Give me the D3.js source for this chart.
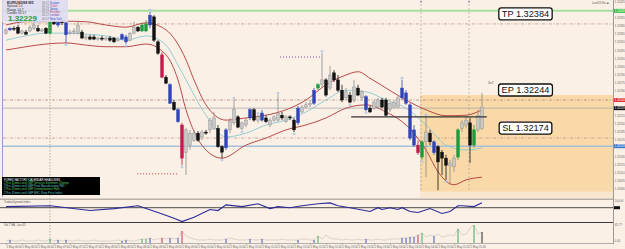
<!DOCTYPE html>
<html>
<head>
<meta charset="utf-8">
<script src="https://cdn.jsdelivr.net/npm/d3@7"></script>
<style>
  html, body { margin: 0; padding: 0; background: #faf0e6; }
  svg { display: block; font-family: "Liberation Sans", Arial, sans-serif; }
</style>
</head>
<body>
<div id="chart"></div>
<script>
// EURUSD M5 - candles, bands, trade levels, two sub panels

const opens = [
  1.32367, 1.32373, 1.32376, 1.32378, 1.32367, 1.32369, 1.32371, 1.32376, 1.32376, 1.32371,
  1.32376, 1.32367, 1.32388, 1.32382, 1.32388, 1.32386, 1.32367, 1.32369, 1.32367, 1.32369,
  1.32358, 1.32360, 1.32360, 1.32356, 1.32358, 1.32356, 1.32358, 1.32358, 1.32353, 1.32356,
  1.32360, 1.32354, 1.32367, 1.32378, 1.32371, 1.32371, 1.32382, 1.32397, 1.32351, 1.32327,
  1.32286, 1.32272, 1.32240, 1.32226, 1.32198, 1.32147, 1.32161, 1.32170, 1.32183, 1.32176,
  1.32185, 1.32189, 1.32192, 1.32192, 1.32158, 1.32156, 1.32189, 1.32202, 1.32213, 1.32192,
  1.32198, 1.32211, 1.32226, 1.32207, 1.32207, 1.32211, 1.32198, 1.32207, 1.32207, 1.32216,
  1.32204, 1.32213, 1.32207, 1.32202, 1.32222, 1.32231, 1.32235, 1.32238, 1.32266, 1.32272,
  1.32281, 1.32266, 1.32294, 1.32281, 1.32262, 1.32248, 1.32253, 1.32244, 1.32266, 1.32248,
  1.32250, 1.32229, 1.32229, 1.32231, 1.32244, 1.32244, 1.32226, 1.32231, 1.32231, 1.32248,
  1.32257, 1.32235, 1.32189, 1.32161, 1.32139, 1.32167, 1.32183, 1.32167, 1.32158, 1.32148,
  1.32137, 1.32124, 1.32121, 1.32139, 1.32192, 1.32198, 1.32202, 1.32161, 1.32189, 1.32192
];
const highs = [
  1.32376, 1.32378, 1.32380, 1.32382, 1.32373, 1.32373, 1.32382, 1.32386, 1.32382, 1.32376,
  1.32378, 1.32391, 1.32391, 1.32391, 1.32391, 1.32388, 1.32373, 1.32376, 1.32388, 1.32373,
  1.32364, 1.32364, 1.32364, 1.32360, 1.32362, 1.32360, 1.32362, 1.32360, 1.32360, 1.32367,
  1.32364, 1.32369, 1.32388, 1.32380, 1.32386, 1.32391, 1.32406, 1.32400, 1.32354, 1.32332,
  1.32290, 1.32275, 1.32244, 1.32229, 1.32202, 1.32192, 1.32189, 1.32189, 1.32187, 1.32189,
  1.32189, 1.32211, 1.32222, 1.32198, 1.32161, 1.32192, 1.32211, 1.32244, 1.32216, 1.32204,
  1.32211, 1.32229, 1.32229, 1.32216, 1.32226, 1.32216, 1.32211, 1.32216, 1.32253, 1.32222,
  1.32216, 1.32216, 1.32211, 1.32233, 1.32235, 1.32240, 1.32244, 1.32266, 1.32275, 1.32330,
  1.32284, 1.32307, 1.32299, 1.32290, 1.32272, 1.32266, 1.32259, 1.32281, 1.32272, 1.32262,
  1.32253, 1.32233, 1.32244, 1.32248, 1.32248, 1.32248, 1.32240, 1.32244, 1.32251, 1.32281,
  1.32262, 1.32238, 1.32198, 1.32170, 1.32170, 1.32213, 1.32189, 1.32170, 1.32161, 1.32152,
  1.32143, 1.32134, 1.32143, 1.32192, 1.32207, 1.32216, 1.32211, 1.32198, 1.32226, 1.32257
];
const lows = [
  1.32364, 1.32371, 1.32371, 1.32365, 1.32365, 1.32364, 1.32369, 1.32373, 1.32369, 1.32369,
  1.32365, 1.32364, 1.32382, 1.32378, 1.32382, 1.32349, 1.32364, 1.32365, 1.32365, 1.32356,
  1.32354, 1.32354, 1.32354, 1.32353, 1.32353, 1.32353, 1.32351, 1.32349, 1.32351, 1.32354,
  1.32347, 1.32353, 1.32365, 1.32369, 1.32369, 1.32369, 1.32376, 1.32351, 1.32327, 1.32284,
  1.32273, 1.32237, 1.32224, 1.32202, 1.32124, 1.32106, 1.32152, 1.32167, 1.32167, 1.32170,
  1.32180, 1.32183, 1.32189, 1.32156, 1.32137, 1.32152, 1.32183, 1.32198, 1.32192, 1.32189,
  1.32194, 1.32207, 1.32204, 1.32202, 1.32204, 1.32202, 1.32194, 1.32204, 1.32204, 1.32207,
  1.32202, 1.32207, 1.32185, 1.32198, 1.32220, 1.32229, 1.32231, 1.32235, 1.32262, 1.32268,
  1.32250, 1.32262, 1.32277, 1.32259, 1.32240, 1.32244, 1.32238, 1.32240, 1.32251, 1.32244,
  1.32224, 1.32220, 1.32226, 1.32229, 1.32229, 1.32214, 1.32222, 1.32229, 1.32229, 1.32244,
  1.32235, 1.32170, 1.32158, 1.32143, 1.32134, 1.32102, 1.32161, 1.32143, 1.32078, 1.32106,
  1.32097, 1.32088, 1.32112, 1.32134, 1.32185, 1.32192, 1.32128, 1.32156, 1.32185, 1.32189
];
const closes = [
  1.32373, 1.32376, 1.32375, 1.32367, 1.32371, 1.32365, 1.32378, 1.32382, 1.32371, 1.32373,
  1.32367, 1.32388, 1.32384, 1.32388, 1.32386, 1.32364, 1.32369, 1.32371, 1.32382, 1.32358,
  1.32360, 1.32356, 1.32356, 1.32358, 1.32356, 1.32358, 1.32354, 1.32351, 1.32356, 1.32364,
  1.32351, 1.32367, 1.32378, 1.32371, 1.32382, 1.32384, 1.32400, 1.32354, 1.32330, 1.32286,
  1.32275, 1.32238, 1.32226, 1.32204, 1.32137, 1.32189, 1.32183, 1.32183, 1.32170, 1.32185,
  1.32183, 1.32207, 1.32211, 1.32158, 1.32148, 1.32189, 1.32204, 1.32226, 1.32194, 1.32202,
  1.32207, 1.32226, 1.32207, 1.32213, 1.32220, 1.32204, 1.32207, 1.32213, 1.32220, 1.32211,
  1.32213, 1.32211, 1.32189, 1.32229, 1.32231, 1.32235, 1.32238, 1.32262, 1.32272, 1.32281,
  1.32253, 1.32290, 1.32281, 1.32262, 1.32244, 1.32259, 1.32240, 1.32268, 1.32253, 1.32259,
  1.32226, 1.32222, 1.32240, 1.32244, 1.32231, 1.32216, 1.32238, 1.32240, 1.32248, 1.32266,
  1.32238, 1.32174, 1.32161, 1.32147, 1.32167, 1.32185, 1.32167, 1.32147, 1.32130, 1.32137,
  1.32124, 1.32128, 1.32137, 1.32189, 1.32202, 1.32207, 1.32161, 1.32189, 1.32216, 1.32231
];
// signal colour per candle: b = blue, g = green, r = red, . = plain
const candleSignal = (
  '.b........' + '.g.b.b....' + '.........b' + 'b...ggb..r' + '.b.br.....' + '.....b....' +
  '.b..b.....' + '...b...bg.' + '..........' + 'b........b' + 'bbbrg..b..' + '...g...g..'
).split('');

// fractal marks: [candle index, 'u' above high / 'd' below low]
const fractals = [[15,'d'],[30,'d'],[36,'u'],[44,'d'],[54,'d'],[57,'u'],[59,'d'],[63,'u'],[68,'u'],[72,'d'],[79,'u'],[86,'d'],[90,'d'],[99,'u'],[104,'d'],[105,'u'],[110,'d']];

// bands read at sample candles: [candle index, price]
const upperBand = [[0,1.32382],[5,1.32388],[10,1.32388],[15,1.32389],[20,1.32388],[25,1.32382],[30,1.32378],[35,1.32386],[40,1.32373],[45,1.32318],[47,1.32281],[50,1.32235],[55,1.32207],[60,1.32211],[65,1.32216],[70,1.32226],[75,1.32244],[80,1.32272],[85,1.32290],[88,1.32296],[91,1.32284],[95,1.32266],[100,1.32244],[105,1.32226],[110,1.32215],[115,1.32216],[119,1.32226]];
const middleBand = [[0,1.32354],[5,1.32362],[10,1.32367],[15,1.32367],[20,1.32365],[25,1.32362],[30,1.32354],[35,1.32362],[40,1.32345],[43,1.32308],[45,1.32281],[50,1.32216],[55,1.32176],[60,1.32183],[65,1.32198],[70,1.32207],[75,1.32222],[80,1.32244],[85,1.32262],[90,1.32259],[95,1.32244],[100,1.32229],[105,1.32198],[110,1.32161],[115,1.32152],[119,1.32156]];
const lowerBand = [[0,1.32336],[5,1.32342],[10,1.32347],[15,1.32349],[20,1.32345],[25,1.32342],[30,1.32342],[35,1.32347],[40,1.32327],[43,1.32281],[45,1.32226],[50,1.32152],[54,1.32137],[60,1.32161],[65,1.32174],[70,1.32189],[75,1.32198],[80,1.32211],[85,1.32229],[90,1.32235],[95,1.32222],[100,1.32198],[105,1.32152],[108,1.32112],[112,1.32088],[115,1.32097],[119,1.32102]];

// trade levels
const takeProfit = 1.32384, entryPrice = 1.32244, stopLoss = 1.32174;
const bidPrice = 1.32229, dayHigh = 1.32408, supportLevel = 1.32159;
const rangeTop = 1.32213, rangeStart = 86.3, rangeEnd = 120.2;
const zoneTop = 1.32253, zoneBottom = 1.32075, zoneStart = 103.5;
const sessionMarks = [103.75, 115.75];
const daySeparator = 11;
const dottedLevels = [[68.5, 78.5, 1.32323, '#8040a0'], [32.8, 43, 1.32108, '#c03030']];

const priceTicks = [1.32425,1.32410,1.32395,1.32380,1.32365,1.32350,1.32335,1.32320,1.32305,1.32290,1.32275,1.32260,1.32245,1.32230,1.32215,1.32200,1.32185,1.32170,1.32155,1.32140,1.32125,1.32110,1.32095,1.32080];

// oscillator panel: [candle index, value]
const oscillator = [[0,70],[11,74],[21,52],[27,61],[33,74],[38,43],[42,17],[44,2],[47,22],[51,57],[53,52],[55,78],[59,70],[63,83],[66,61],[68,70],[71,65],[74,74],[78,83],[81,87],[83,74],[86,65],[91,48],[93,65],[94,57],[96,65],[98,57],[99,65],[101,48],[103,43],[106,61],[109,39],[111,48],[113,74],[114,74],[117,70],[119,87]];
const oscLevel = 65;

// volume panel, one value per candle
const volume = [
  2,3,2,2,3,2,2,2,3,2, 2,4,2,3,2,3,2,2,3,2, 2,2,3,2,2,2,2,2,3,2,
  3,2,2,3,4,4,5,3,4,5, 4,5,4,5,12,7,5,4,3,3, 3,4,3,3,3,4,5,4,3,3,
  3,4,3,3,4,3,3,3,3,4, 3,3,3,3,4,4,3,3,7,4, 8,5,4,4,3,4,3,3,4,3,
  4,3,3,4,3,3,4,4,4,5, 5,6,6,8,10,6,8,7,9,6, 7,8,7,14,8,9,15,18,9,11
];

const timeLabels = ['2 May 06:00','2 May 06:20','2 May 06:40','2 May 07:00','2 May 07:20','2 May 07:40','2 May 08:00','2 May 08:20','2 May 08:40','2 May 09:00','2 May 09:20','2 May 09:40','2 May 10:00','2 May 10:20','2 May 10:40','2 May 11:00','2 May 11:20','2 May 11:40','2 May 12:00','2 May 12:20','2 May 12:40','2 May 13:00','2 May 13:20','2 May 13:40','2 May 14:00','2 May 14:20','2 May 14:40','2 May 15:00','2 May 15:20','2 May 15:40'];

const infoLeft = ['EURUSD88  M5', 'Spread  1.0', 'Range  14.7', 'Candle  03:17'];
const infoRight = [['Scalper','#3050c0'],['Ticker','#d03070'],['Swing','#3050c0'],['Position','#d03070'],['London','#8040a0'],['New York','#3050c0']];
const newsLines = ['FOREX FACTORY CALENDAR HEADLINES', '27hrs 31mins until GBP Services Sentiment Change', '27hrs 31mins until GBP Final Manufacturing PMI', '27hrs 31mins until GBP Unemployment Rate', '27hrs 31mins until GBP BRC Shop Price Index'];

function drawChart() {
    const W = 625, H = 249;
    const plotLeft = 3, plotRight = 613, mainBottom = 197;
    const N = opens.length;

    const svg = d3.select('#chart').append('svg')
        .attr('width', W)
        .attr('height', H);

    svg.append('rect').attr('width', W).attr('height', H).attr('fill', '#faf0e6');

    const x = d3.scaleLinear().domain([0, N - 1]).range([6, 482]);
    const y = d3.scaleLinear().domain([1.320655, 1.32428]).range([mainBottom, 0]);

    svg.append('clipPath').attr('id', 'main-clip')
        .append('rect').attr('x', plotLeft).attr('y', 0)
        .attr('width', plotRight - plotLeft).attr('height', mainBottom + 1);

    const main = svg.append('g').attr('clip-path', 'url(#main-clip)');

    // session zone
    main.append('rect')
        .attr('x', x(zoneStart)).attr('y', y(zoneTop))
        .attr('width', plotRight - x(zoneStart)).attr('height', y(zoneBottom) - y(zoneTop))
        .attr('fill', '#f9d9a8');
    main.append('rect')
        .attr('x', x(zoneStart)).attr('y', y(zoneBottom))
        .attr('width', plotRight - x(zoneStart)).attr('height', mainBottom + 1 - y(zoneBottom))
        .attr('fill', '#f8e6cf');

    // left border
    svg.append('line').attr('x1', 2.5).attr('x2', 2.5).attr('y1', 0).attr('y2', mainBottom)
        .attr('stroke', '#8aa4c8').attr('stroke-width', 1);

    // vertical markers
    sessionMarks.forEach(i => {
        main.append('line')
            .attr('x1', x(i)).attr('x2', x(i)).attr('y1', 0).attr('y2', y(zoneBottom))
            .attr('stroke', '#a8a29a').attr('stroke-width', 0.7).attr('stroke-dasharray', '2,2');
        main.append('text')
            .attr('x', x(i)).attr('y', 3).attr('text-anchor', 'middle')
            .attr('font-size', '4px').attr('fill', '#8050a0').text('x');
    });
    svg.append('line')
        .attr('x1', x(daySeparator)).attr('x2', x(daySeparator)).attr('y1', 0).attr('y2', 243)
        .attr('stroke', '#a89c88').attr('stroke-width', 0.8).attr('stroke-dasharray', '1.5,1.5');

    // horizontal levels
    const hline = (price, color, width, dash) => main.append('line')
        .attr('x1', plotLeft).attr('x2', plotRight)
        .attr('y1', y(price)).attr('y2', y(price))
        .attr('stroke', color).attr('stroke-width', width)
        .attr('stroke-dasharray', dash || null);

    hline(dayHigh, '#a6e0a0', 2);
    hline(takeProfit, '#c49888', 0.8, '3,1.5,1,1.5');
    hline(entryPrice, '#b08878', 0.8, '3,1.5,1,1.5');
    hline(bidPrice, '#a8a8a8', 0.8);
    hline(stopLoss, '#c49888', 0.8, '3,1.5,1,1.5');
    hline(supportLevel, '#a4c0d8', 1.4);

    dottedLevels.forEach(d => {
        main.append('line')
            .attr('x1', x(d[0])).attr('x2', x(d[1]))
            .attr('y1', y(d[2])).attr('y2', y(d[2]))
            .attr('stroke', d[3]).attr('stroke-width', 1).attr('stroke-dasharray', '1,2');
    });

    // bands
    const bandLine = d3.line()
        .x(d => x(d[0]))
        .y(d => y(d[1]))
        .curve(d3.curveMonotoneX);

    main.append('path').datum(upperBand).attr('d', bandLine)
        .attr('fill', 'none').attr('stroke', '#b03a3a').attr('stroke-width', 0.9);
    main.append('path').datum(middleBand).attr('d', bandLine)
        .attr('fill', 'none').attr('stroke', '#8cc8d0').attr('stroke-width', 0.9);
    main.append('path').datum(lowerBand).attr('d', bandLine)
        .attr('fill', 'none').attr('stroke', '#b03a3a').attr('stroke-width', 0.9);

    // candles
    const signalColor = { b: '#2f44b8', g: '#1f9a3e', r: '#c21a4a' };
    const candleData = d3.range(N).map(i => ({
        i, o: opens[i], h: highs[i], l: lows[i], c: closes[i], s: candleSignal[i]
    }));
    const strokeOf = d => signalColor[d.s] || (d.c >= d.o ? '#8c8c8c' : '#111');
    const fillOf = d => signalColor[d.s] || (d.c >= d.o ? '#c8c8c8' : '#111');

    const candles = main.selectAll('.candle')
        .data(candleData)
        .enter()
        .append('g')
        .attr('class', 'candle');

    candles.append('line')
        .attr('x1', d => x(d.i)).attr('x2', d => x(d.i))
        .attr('y1', d => y(d.h)).attr('y2', d => y(d.l))
        .attr('stroke', strokeOf).attr('stroke-width', 0.8);

    candles.append('rect')
        .attr('x', d => x(d.i) - 1.5)
        .attr('y', d => y(Math.max(d.o, d.c)))
        .attr('width', 3)
        .attr('height', d => Math.max(1, Math.abs(y(d.o) - y(d.c))))
        .attr('fill', fillOf)
        .attr('stroke', strokeOf).attr('stroke-width', 0.4);

    // fractal marks
    main.selectAll('.fractal')
        .data(fractals)
        .enter()
        .append('circle')
        .attr('class', 'fractal')
        .attr('cx', d => x(d[0]))
        .attr('cy', d => d[1] === 'u' ? y(highs[d[0]]) - 1.8 : y(lows[d[0]]) + 1.8)
        .attr('r', 1)
        .attr('fill', '#e8f0fa')
        .attr('stroke', '#7f9fd0')
        .attr('stroke-width', 0.5);

    // range box top
    main.append('line')
        .attr('x1', x(rangeStart)).attr('x2', x(rangeEnd))
        .attr('y1', y(rangeTop)).attr('y2', y(rangeTop))
        .attr('stroke', '#333').attr('stroke-width', 1.2);

    // price axis
    svg.append('line')
        .attr('x1', plotRight + 0.5).attr('x2', plotRight + 0.5).attr('y1', 0).attr('y2', 244)
        .attr('stroke', '#9a9a9a').attr('stroke-width', 1);

    const tags = [[dayHigh, '#34c040', '#fff'], [entryPrice, '#e03030', '#fff'], [bidPrice, '#111', '#fff'], [supportLevel, '#3a78d0', '#fff']];
    const freeTicks = priceTicks.filter(p => tags.every(t => Math.abs(y(p) - y(t[0])) > 4.5));

    svg.append('g').selectAll('text')
        .data(freeTicks)
        .enter()
        .append('text')
        .attr('x', plotRight + 1.8)
        .attr('y', d => y(d) + 1)
        .attr('font-size', '2.8px')
        .attr('fill', '#6a6a6a')
        .text(d => d.toFixed(5));

    tags.forEach(t => {
        svg.append('rect')
            .attr('x', plotRight + 1).attr('y', y(t[0]) - 2)
            .attr('width', 11).attr('height', 4).attr('fill', t[1]);
        svg.append('text')
            .attr('x', plotRight + 1.8).attr('y', y(t[0]) + 1)
            .attr('font-size', '2.8px').attr('fill', t[2])
            .text(t[0].toFixed(5));
    });

    // trade labels
    const tradeLabels = [['TP', takeProfit], ['EP', entryPrice], ['SL', stopLoss]];
    tradeLabels.forEach(t => {
        const g = svg.append('g');
        const label = g.append('text')
            .attr('x', 525.5).attr('y', y(t[1]) - 10 + 3.3)
            .attr('text-anchor', 'middle')
            .attr('font-size', '9.2px')
            .attr('fill', '#111')
            .text(`${t[0]} ${t[1].toFixed(5)}`);
        const bb = label.node().getBBox();
        g.insert('rect', 'text')
            .attr('x', bb.x - 3).attr('y', y(t[1]) - 10 - 6)
            .attr('width', bb.width + 6).attr('height', 12)
            .attr('rx', 2.5)
            .attr('fill', '#fff').attr('stroke', '#111').attr('stroke-width', 1.3);
    });

    svg.append('text').attr('x', 488).attr('y', 84).attr('font-size', '3.5px').attr('fill', '#555').text('3x7');
    svg.append('text').attr('x', 592).attr('y', 3.5).attr('font-size', '2.8px').attr('fill', '#555').text('Line/D1/Inc \u25A0');

    // info box top left
    const info = svg.append('g');
    info.append('rect').attr('x', 2).attr('y', 0).attr('width', 66).attr('height', 22)
        .attr('fill', '#dcdaf2').attr('opacity', 0.85);
    infoLeft.forEach((t, k) => {
        info.append('text').attr('x', 7).attr('y', 4 + k * 3.3)
            .attr('font-size', k === 0 ? '3.8px' : '3.2px')
            .attr('font-weight', k === 0 ? 'bold' : 'normal')
            .attr('fill', '#333').text(t);
    });
    infoRight.forEach((t, k) => {
        info.append('text').attr('x', 42).attr('y', 3.5 + k * 3.2)
            .attr('font-size', '2.8px').attr('fill', '#777').text('00:17');
        info.append('text').attr('x', 50).attr('y', 3.5 + k * 3.2)
            .attr('font-size', '2.8px').attr('fill', t[1]).text(t[0]);
    });
    info.append('text').attr('x', 8).attr('y', 20.5)
        .attr('font-size', '8px').attr('font-weight', 'bold')
        .attr('fill', '#2c9a3c').text(bidPrice.toFixed(5));

    // news box
    const news = svg.append('g');
    news.append('rect').attr('x', 2).attr('y', 177).attr('width', 98).attr('height', 18).attr('fill', '#000');
    newsLines.forEach((t, k) => {
        news.append('text').attr('x', 4).attr('y', 180.5 + k * 3.3)
            .attr('font-size', '2.8px')
            .attr('fill', k === 0 ? '#fff' : (k % 2 ? '#5fd06a' : '#60c8c8'))
            .text(t);
    });

    // panel separators
    svg.append('rect').attr('x', 0).attr('y', 198.5).attr('width', plotRight).attr('height', 1.5).attr('fill', '#b8b0a6');
    svg.append('line').attr('x1', 0).attr('x2', plotRight).attr('y1', 222.5).attr('y2', 222.5)
        .attr('stroke', '#3c3c3c').attr('stroke-width', 1.2);

    // oscillator panel
    const yo = d3.scaleLinear().domain([0, 100]).range([222, 200]);
    svg.append('line').attr('x1', 0).attr('x2', plotRight).attr('y1', yo(oscLevel)).attr('y2', yo(oscLevel))
        .attr('stroke', '#222').attr('stroke-width', 0.8);
    svg.append('path').datum(oscillator)
        .attr('d', d3.line().x(d => x(d[0])).y(d => yo(d[1])))
        .attr('fill', 'none').attr('stroke', '#2a2a9c').attr('stroke-width', 1.1);
    svg.append('text').attr('x', 4).attr('y', 203).attr('font-size', '2.8px').attr('fill', '#555').text('TradesDynamicIndex');
    svg.append('rect').attr('x', plotRight + 1).attr('y', yo(oscLevel) - 1.5).attr('width', 6).attr('height', 3).attr('fill', '#111');
    svg.append('text').attr('x', plotRight + 1.8).attr('y', 202).attr('font-size', '2.8px').attr('fill', '#666').text('100.00');

    // volume panel
    const yv = d3.scaleLinear().domain([0, 20]).range([243, 223]);
    svg.append('path').datum(volume)
        .attr('d', d3.line().x((d, i) => x(i)).y(d => yv(d)))
        .attr('fill', 'none').attr('stroke', '#cfc6c0').attr('stroke-width', 0.7);
    const volColor = { b: '#3040b0', g: '#30a050', r: '#c02040' };
    svg.append('g').selectAll('line')
        .data(candleData.filter(d => volColor[d.s] || d.i === N - 1))
        .enter()
        .append('line')
        .attr('x1', d => x(d.i)).attr('x2', d => x(d.i))
        .attr('y1', yv(0)).attr('y2', d => yv(volume[d.i]))
        .attr('stroke', d => volColor[d.s] || '#111').attr('stroke-width', 0.9);
    svg.append('text').attr('x', 4).attr('y', 226).attr('font-size', '2.8px').attr('fill', '#555').text('Vol-T EA - last 45');
    svg.append('text').attr('x', plotRight + 1.8).attr('y', 226).attr('font-size', '2.8px').attr('fill', '#666').text('45.77');
    svg.append('text').attr('x', plotRight + 1.8).attr('y', 242).attr('font-size', '2.8px').attr('fill', '#666').text('0.00');
    svg.append('line').attr('x1', 0).attr('x2', plotRight).attr('y1', 243.5).attr('y2', 243.5)
        .attr('stroke', '#a0a0a0').attr('stroke-width', 0.8);

    // time axis
    const timeIdx = timeLabels.map((t, k) => k * 4);
    const xt = svg.append('g').attr('transform', 'translate(0,243.5)')
        .call(d3.axisBottom(x).tickValues(timeIdx).tickSize(1.5).tickFormat((d, k) => timeLabels[k]));
    xt.select('.domain').remove();
    xt.selectAll('line').attr('stroke', '#888').attr('stroke-width', 0.5);
    xt.selectAll('text').attr('font-size', '2.8px').attr('fill', '#666').attr('dy', 0).attr('y', 4)
        .attr('text-anchor', 'start').attr('font-family', 'Liberation Sans, Arial, sans-serif');
}

drawChart();
</script>
</body>
</html>
